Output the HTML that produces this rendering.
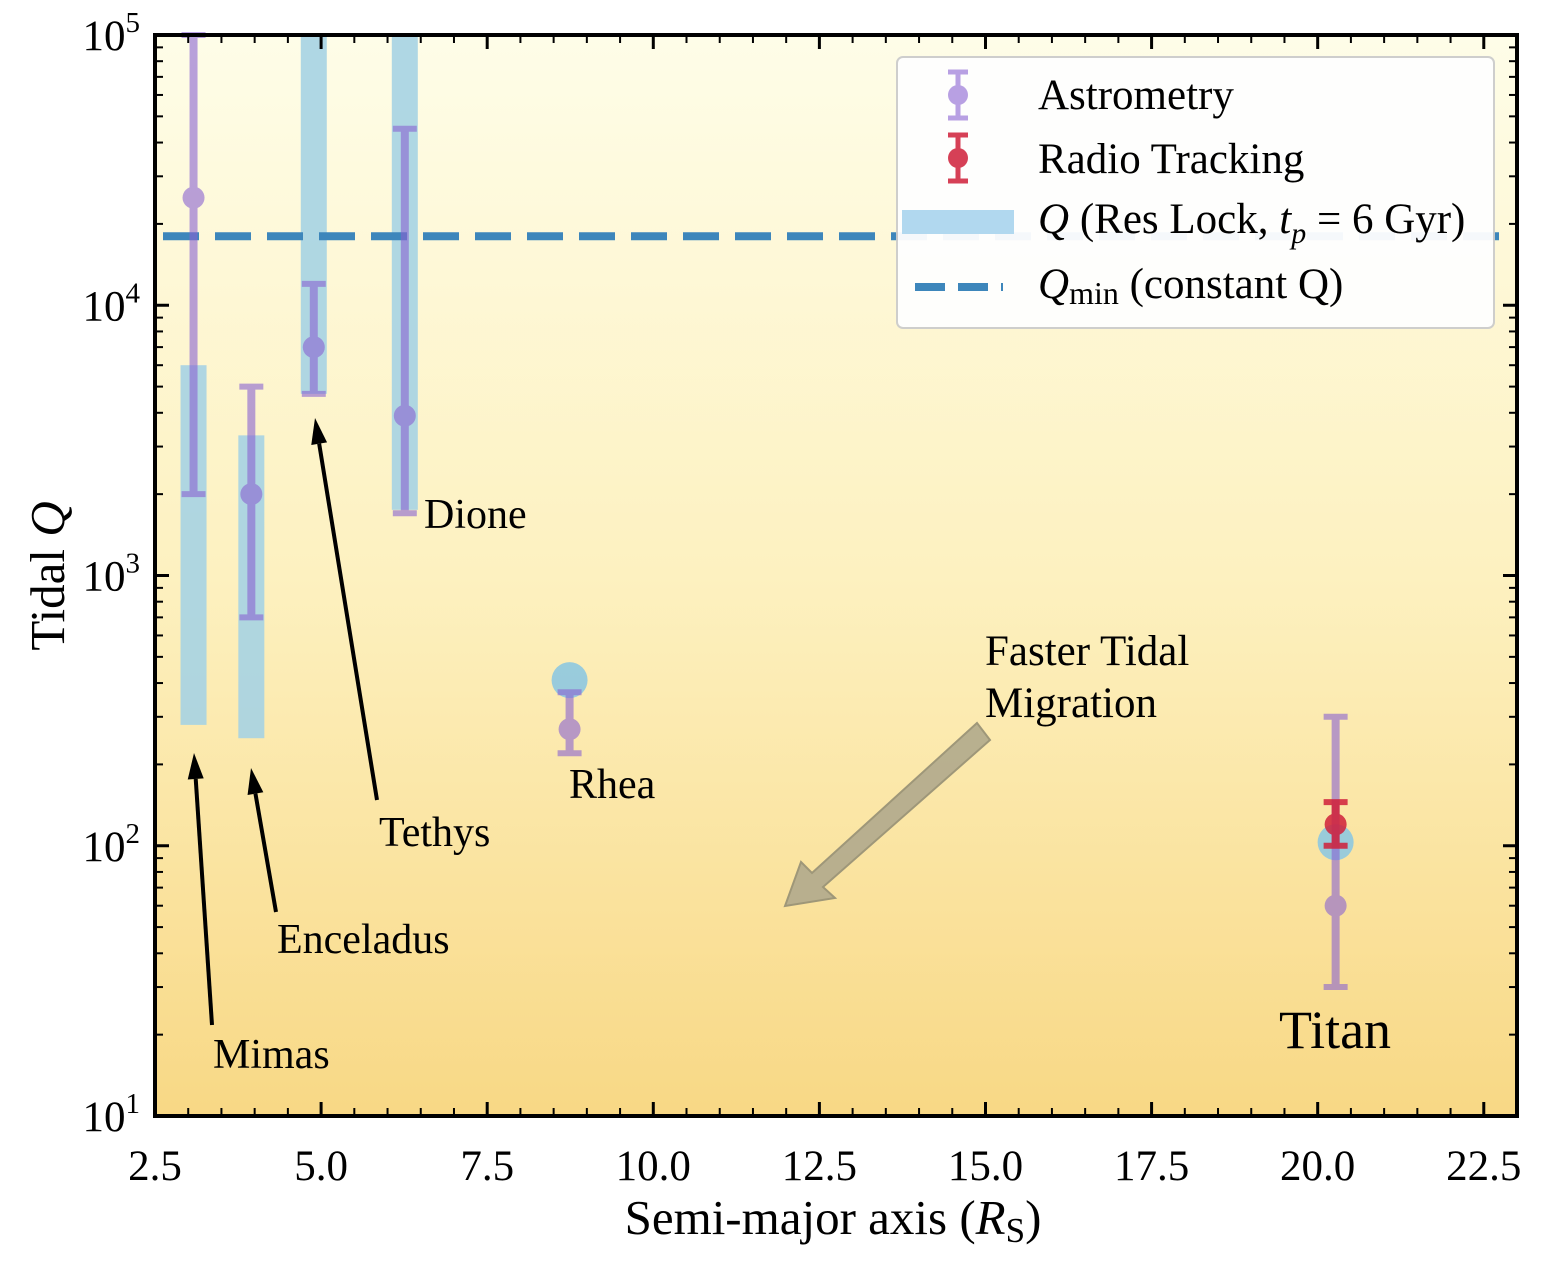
<!DOCTYPE html>
<html><head><meta charset="utf-8"><style>
html,body{margin:0;padding:0;background:#fff}
svg text{font-family:"Liberation Serif",serif;fill:#000}
</style></head><body>
<svg id="chart" width="1558" height="1264" xmlns="http://www.w3.org/2000/svg">
<defs><linearGradient id="bg" x1="0" y1="0" x2="0" y2="1">
<stop offset="0" stop-color="#fefde8"/><stop offset="0.5" stop-color="#fdf1c0"/><stop offset="1" stop-color="#f8d885"/></linearGradient></defs>
<rect x="155" y="35" width="1362" height="1081" fill="url(#bg)"/>
<g id="marks"></g>
<g id="axes"></g>
</svg>
<script>
const moons=["Mimas","Enceladus","Tethys","Dione","Rhea","Titan"];
const moonA=[3.08,3.95,4.89,6.26,8.74,20.27];
const astroQ=[25000,2000,7000,3900,270,60];
const astroLo=[2000,700,4700,1700,220,30];
const astroHi=[100000,5000,12000,45000,370,300];
const bandLo=[280,250,4700,1750,null,null];
const bandHi=[6000,3300,100000,100000,null,null];
const circleQ=[null,null,null,null,410,103];
const radioQ=[120];const radioLo=[100];const radioHi=[145];const radioA=[20.27];
const qmin=18000;
const xTicks=[2.5,5.0,7.5,10.0,12.5,15.0,17.5,20.0,22.5];
const yTicks=[1,2,3,4,5];
const X0=155,X1=1517,Y0=35,Y1=1116;
const xs=v=>X0+(v-2.5)/(23-2.5)*(X1-X0);
const ys=q=>Y1-(Math.log10(q)-1)/4*(Y1-Y0);
const NS="http://www.w3.org/2000/svg";
function mk(tag,attrs,parent,txt){const e=document.createElementNS(NS,tag);for(const k in attrs)e.setAttribute(k,attrs[k]);if(txt!==undefined)e.textContent=txt;parent.appendChild(e);return e;}
const M=document.getElementById('marks'),A=document.getElementById('axes');
moons.forEach((m,i)=>{if(bandLo[i]==null)return;
 const r=mk('rect',{x:xs(moonA[i])-13,y:ys(bandHi[i]),width:26,height:ys(bandLo[i])-ys(bandHi[i]),fill:'#a6d3e3',opacity:0.9},M);
 
 });
moons.forEach((m,i)=>{if(circleQ[i]==null)return;
 const c=mk('circle',{cx:xs(moonA[i]),cy:ys(circleQ[i]),r:18,fill:'#8ec8e0',opacity:0.9},M);
 
 });
const ql=mk('line',{x1:X0,x2:X1,y1:ys(qmin),y2:ys(qmin),stroke:'#3d86bb',"stroke-width":8,"stroke-dasharray":"36 16","stroke-dashoffset":-8},M);


function errbar(x,q,lo,hi,col,name,op){
 const g=mk('g',{opacity:op},M);
 
 
 mk('line',{x1:x,x2:x,y1:ys(hi),y2:ys(lo),stroke:col,"stroke-width":8},g);
 mk('line',{x1:x-12,x2:x+12,y1:ys(hi),y2:ys(hi),stroke:col,"stroke-width":6},g);
 mk('line',{x1:x-12,x2:x+12,y1:ys(lo),y2:ys(lo),stroke:col,"stroke-width":6},g);
 mk('circle',{cx:x,cy:ys(q),r:11,fill:col},g);}
moons.forEach((m,i)=>errbar(xs(moonA[i]),astroQ[i],astroLo[i],astroHi[i],'#8a63d2','astrometry-'+m.toLowerCase(),0.6));
radioQ.forEach((q,i)=>errbar(xs(radioA[i]),q,radioLo[i],radioHi[i],'#d0203a','radio-titan',0.85));
function arrow(x1,y1,x2,y2,name){const g=mk('g',{},M);
 
 
 const ang=Math.atan2(y2-y1,x2-x1),L=26,W=8;
 const bx=x2-L*Math.cos(ang),by=y2-L*Math.sin(ang);
 mk('line',{x1:x1,y1:y1,x2:bx,y2:by,stroke:'#000',"stroke-width":4},g);
 mk('polygon',{points:`${x2},${y2} ${bx+W*Math.sin(ang)},${by-W*Math.cos(ang)} ${bx-W*Math.sin(ang)},${by+W*Math.cos(ang)}`,fill:'#000'},g);}
arrow(212,1025,194,753,'arrow-mimas');
arrow(276,912,251,768,'arrow-enceladus');
arrow(377,800,315,418,'arrow-tethys');
const ga=mk('polygon',{points:"977,723 990,740 823,887 835,898 785,906 801,862 812,873",fill:'#b5ad8e',stroke:'#9a9377',"stroke-width":2,opacity:0.95},M);


const labs=[["Mimas",213,1068,42],["Enceladus",277,953,42],["Tethys",379,846,42],["Dione",424,528,42],["Rhea",569,798,42],["Titan",1279,1048,54],["Faster Tidal",985,665,43],["Migration",985,717,43]];
labs.forEach(l=>{const t=mk('text',{x:l[1],y:l[2],"font-size":l[3]},M,l[0]);
 
 });
const lg=mk('g',{},M);


mk('rect',{x:897,y:57,width:597,height:271,rx:6,fill:'#fff',stroke:'#ccc',"stroke-width":2,opacity:0.95},lg);
function lerr(y,col,op){const g=mk('g',{opacity:op},lg);mk('line',{x1:958,x2:958,y1:y-23,y2:y+23,stroke:col,"stroke-width":5},g);mk('line',{x1:948,x2:968,y1:y-23,y2:y-23,stroke:col,"stroke-width":5},g);mk('line',{x1:948,x2:968,y1:y+23,y2:y+23,stroke:col,"stroke-width":5},g);mk('circle',{cx:958,cy:y,r:10,fill:col},g);}
lerr(95,'#8a63d2',0.6);lerr(158,'#d0203a',0.85);
mk('rect',{x:902,y:210,width:112,height:24,fill:'#b1d8ef'},lg);
mk('line',{x1:915,x2:1003,y1:287,y2:287,stroke:'#3d86bb',"stroke-width":8,"stroke-dasharray":"30 13"},lg);
mk('text',{x:1038,y:109,"font-size":43},lg,"Astrometry");
mk('text',{x:1038,y:173,"font-size":43},lg,"Radio Tracking");
const t3=mk('text',{x:1038,y:233,"font-size":43},lg);
t3.innerHTML='<tspan font-style="italic">Q</tspan> (Res Lock, <tspan font-style="italic">t</tspan><tspan font-style="italic" font-size="30" dy="10">p</tspan><tspan dy="-10"> = 6 Gyr)</tspan>';
const t4=mk('text',{x:1038,y:298,"font-size":43},lg);
t4.innerHTML='<tspan font-style="italic">Q</tspan><tspan font-size="32" dy="6">min</tspan><tspan dy="-6"> (constant Q)</tspan>';
const fr=mk('rect',{x:X0,y:Y0,width:X1-X0,height:Y1-Y0,fill:'none',stroke:'#000',"stroke-width":4},A);


for(let v=2.5;v<=23.001;v+=0.5){const x=xs(v);const major=xTicks.some(t=>Math.abs(t-v)<1e-6);const L=major?14:8;
 mk('line',{x1:x,x2:x,y1:Y1,y2:Y1-L,stroke:'#000',"stroke-width":major?3:2},A);
 mk('line',{x1:x,x2:x,y1:Y0,y2:Y0+L,stroke:'#000',"stroke-width":major?3:2},A);}
xTicks.forEach(v=>{const t=mk('text',{x:xs(v),y:1180,"font-size":43,"text-anchor":"middle"},A,v.toFixed(1));
 
 });
for(let d=1;d<5;d++)for(let k=2;k<=9;k++){const y=ys(k*Math.pow(10,d));
 mk('line',{x1:X0,x2:X0+8,y1:y,y2:y,stroke:'#000',"stroke-width":2},A);
 mk('line',{x1:X1,x2:X1-8,y1:y,y2:y,stroke:'#000',"stroke-width":2},A);}
yTicks.forEach(e=>{const y=ys(Math.pow(10,e));
 mk('line',{x1:X0,x2:X0+14,y1:y,y2:y,stroke:'#000',"stroke-width":3},A);
 mk('line',{x1:X1,x2:X1-14,y1:y,y2:y,stroke:'#000',"stroke-width":3},A);
 const t=mk('text',{x:140,y:y+15,"font-size":43,"text-anchor":"end"},A);
 t.innerHTML='10<tspan font-size="29" dy="-18">'+e+'</tspan>';
 
 });
const xt=mk('text',{x:833,y:1234,"font-size":49,"text-anchor":"middle"},A);
xt.innerHTML='Semi-major axis (<tspan font-style="italic">R</tspan><tspan font-size="35" dy="8">S</tspan><tspan dy="-8">)</tspan>';


const yt=mk('text',{x:0,y:0,"font-size":49,"text-anchor":"middle",transform:"translate(64,576) rotate(-90)"},A);
yt.innerHTML='Tidal <tspan font-style="italic">Q</tspan>';


</script>
</body></html>
